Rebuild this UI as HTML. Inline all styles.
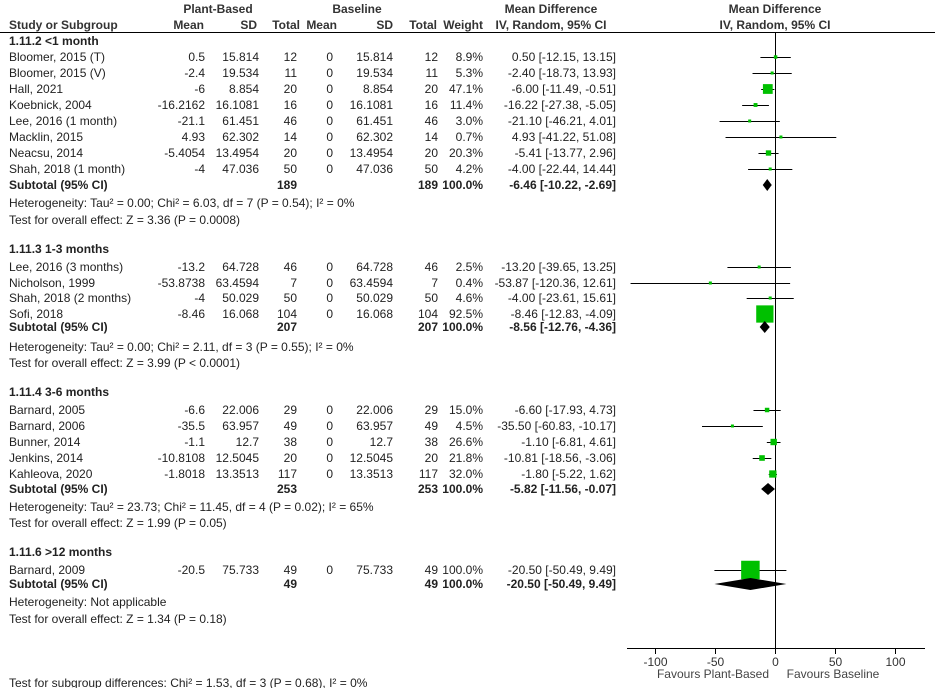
<!DOCTYPE html>
<html><head><meta charset="utf-8"><style>
html,body{margin:0;padding:0;background:#fff;}
svg{display:block;font-family:"Liberation Sans",Arial,sans-serif;font-size:12px;fill:#000;}
</style></head><body>
<svg width="935" height="688" viewBox="0 0 935 688" xmlns="http://www.w3.org/2000/svg" id="s">
<g font-weight="bold" fill="#333">
<text x="218" y="13" text-anchor="middle">Plant-Based</text>
<text x="357" y="13" text-anchor="middle">Baseline</text>
<text x="551" y="13" text-anchor="middle">Mean Difference</text>
<text x="551" y="29" text-anchor="middle">IV, Random, 95% CI</text>
<text x="775" y="13" text-anchor="middle">Mean Difference</text>
<text x="775" y="29" text-anchor="middle">IV, Random, 95% CI</text>
<text x="9" y="29">Study or Subgroup</text>
<text x="204" y="29" text-anchor="end">Mean</text>
<text x="257" y="29" text-anchor="end">SD</text>
<text x="300" y="29" text-anchor="end">Total</text>
<text x="337" y="29" text-anchor="end">Mean</text>
<text x="393" y="29" text-anchor="end">SD</text>
<text x="437" y="29" text-anchor="end">Total</text>
<text x="483" y="29" text-anchor="end">Weight</text>
</g>
<line x1="0" y1="32.5" x2="935" y2="32.5" stroke="#000" stroke-width="1"/>
<line x1="775.5" y1="33" x2="775.5" y2="648" stroke="#000" stroke-width="1"/>
<line x1="627" y1="648.5" x2="925" y2="648.5" stroke="#000" stroke-width="1"/>
<g id="content"></g>
<text x="9" y="687" fill="#222">Test for subgroup differences: Chi² = 1.53, df = 3 (P = 0.68), I² = 0%</text>
</svg>
<script>
const NS="http://www.w3.org/2000/svg";
const C=document.getElementById('content');
function t(x,y,s,anchor,bold,fill){const e=document.createElementNS(NS,'text');e.setAttribute('x',x);e.setAttribute('y',y);if(anchor)e.setAttribute('text-anchor',anchor);if(bold)e.setAttribute('font-weight','bold');e.setAttribute('fill',fill||'#222');e.textContent=s;C.appendChild(e);}
function el(n,a){const e=document.createElementNS(NS,n);for(const k in a)e.setAttribute(k,a[k]);C.appendChild(e);}
const X=v=>775+1.2*v;
[-100,-50,0,50,100].forEach(v=>{el('line',{x1:X(v)+0.5,y1:648,x2:X(v)+0.5,y2:654,stroke:'#000'});t(X(v)+0.5,666,String(v),'middle',false,'#333');});
t(713,678,'Favours Plant-Based','middle',false,'#444');
t(833,678,'Favours Baseline','middle',false,'#444');
const groups=[
 {title:'1.11.2 <1 month',ty:41,rows:[
  ['Bloomer, 2015 (T)','0.5','15.814','12','15.814','8.9',0.50,-12.15,13.15,'0.50 [-12.15, 13.15]',57],
  ['Bloomer, 2015 (V)','-2.4','19.534','11','19.534','5.3',-2.40,-18.73,13.93,'-2.40 [-18.73, 13.93]',73],
  ['Hall, 2021','-6','8.854','20','8.854','47.1',-6.00,-11.49,-0.51,'-6.00 [-11.49, -0.51]',89],
  ['Koebnick, 2004','-16.2162','16.1081','16','16.1081','11.4',-16.22,-27.38,-5.05,'-16.22 [-27.38, -5.05]',105],
  ['Lee, 2016 (1 month)','-21.1','61.451','46','61.451','3.0',-21.10,-46.21,4.01,'-21.10 [-46.21, 4.01]',121],
  ['Macklin, 2015','4.93','62.302','14','62.302','0.7',4.93,-41.22,51.08,'4.93 [-41.22, 51.08]',137],
  ['Neacsu, 2014','-5.4054','13.4954','20','13.4954','20.3',-5.41,-13.77,2.96,'-5.41 [-13.77, 2.96]',153],
  ['Shah, 2018 (1 month)','-4','47.036','50','47.036','4.2',-4.00,-22.44,14.44,'-4.00 [-22.44, 14.44]',169]],
  sub:['189',-6.46,-10.22,-2.69,'-6.46 [-10.22, -2.69]',185],
  het:['Heterogeneity: Tau² = 0.00; Chi² = 6.03, df = 7 (P = 0.54); I² = 0%',203],
  test:['Test for overall effect: Z = 3.36 (P = 0.0008)',220]},
 {title:'1.11.3 1-3 months',ty:249,rows:[
  ['Lee, 2016 (3 months)','-13.2','64.728','46','64.728','2.5',-13.20,-39.65,13.25,'-13.20 [-39.65, 13.25]',267],
  ['Nicholson, 1999','-53.8738','63.4594','7','63.4594','0.4',-53.87,-120.36,12.61,'-53.87 [-120.36, 12.61]',283],
  ['Shah, 2018 (2 months)','-4','50.029','50','50.029','4.6',-4.00,-23.61,15.61,'-4.00 [-23.61, 15.61]',298],
  ['Sofi, 2018','-8.46','16.068','104','16.068','92.5',-8.46,-12.83,-4.09,'-8.46 [-12.83, -4.09]',314]],
  sub:['207',-8.56,-12.76,-4.36,'-8.56 [-12.76, -4.36]',327],
  het:['Heterogeneity: Tau² = 0.00; Chi² = 2.11, df = 3 (P = 0.55); I² = 0%',347],
  test:['Test for overall effect: Z = 3.99 (P < 0.0001)',363]},
 {title:'1.11.4 3-6 months',ty:392,rows:[
  ['Barnard, 2005','-6.6','22.006','29','22.006','15.0',-6.60,-17.93,4.73,'-6.60 [-17.93, 4.73]',410],
  ['Barnard, 2006','-35.5','63.957','49','63.957','4.5',-35.50,-60.83,-10.17,'-35.50 [-60.83, -10.17]',426],
  ['Bunner, 2014','-1.1','12.7','38','12.7','26.6',-1.10,-6.81,4.61,'-1.10 [-6.81, 4.61]',442],
  ['Jenkins, 2014','-10.8108','12.5045','20','12.5045','21.8',-10.81,-18.56,-3.06,'-10.81 [-18.56, -3.06]',458],
  ['Kahleova, 2020','-1.8018','13.3513','117','13.3513','32.0',-1.80,-5.22,1.62,'-1.80 [-5.22, 1.62]',474]],
  sub:['253',-5.82,-11.56,-0.07,'-5.82 [-11.56, -0.07]',489],
  het:['Heterogeneity: Tau² = 23.73; Chi² = 11.45, df = 4 (P = 0.02); I² = 65%',507],
  test:['Test for overall effect: Z = 1.99 (P = 0.05)',523]},
 {title:'1.11.6 >12 months',ty:552,rows:[
  ['Barnard, 2009','-20.5','75.733','49','75.733','100.0',-20.50,-50.49,9.49,'-20.50 [-50.49, 9.49]',570]],
  sub:['49',-20.50,-50.49,9.49,'-20.50 [-50.49, 9.49]',584],
  het:['Heterogeneity: Not applicable',602],
  test:['Test for overall effect: Z = 1.34 (P = 0.18)',619]}
];
groups.forEach(g=>{
 t(9,g.ty+4,g.title,null,true,'#222');
 g.rows.forEach(r=>{
  const y=r[10],b=y+4;
  t(9,b,r[0]);t(205,b,r[1],'end');t(259,b,r[2],'end');t(297,b,r[3],'end');
  t(333,b,'0','end');t(393,b,r[4],'end');t(438,b,r[3],'end');t(483,b,r[5]+'%','end');t(616,b,r[9],'end');
  el('line',{x1:X(r[7]),y1:y+0.5,x2:X(r[8]),y2:y+0.5,stroke:'#000'});
  const w=parseFloat(r[5]);const s=Math.max(3,2+0.165*w);
  el('rect',{x:X(r[6])-s/2,y:y-s/2,width:s,height:s,fill:'#00c000'});
 });
 const s=g.sub,y=s[5],b=y+4;
 t(9,b,'Subtotal (95% CI)',null,true);t(297,b,s[0],'end',true);t(438,b,s[0],'end',true);t(483,b,'100.0%','end',true);t(616,b,s[4],'end',true);
 const h=6;
 el('polygon',{points:`${X(s[2])},${y} ${X(s[1])},${y-h} ${X(s[3])},${y} ${X(s[1])},${y+h}`,fill:'#000'});
 t(9,g.het[1]+4,g.het[0]);t(9,g.test[1]+4,g.test[0]);
});
</script>
</body></html>
